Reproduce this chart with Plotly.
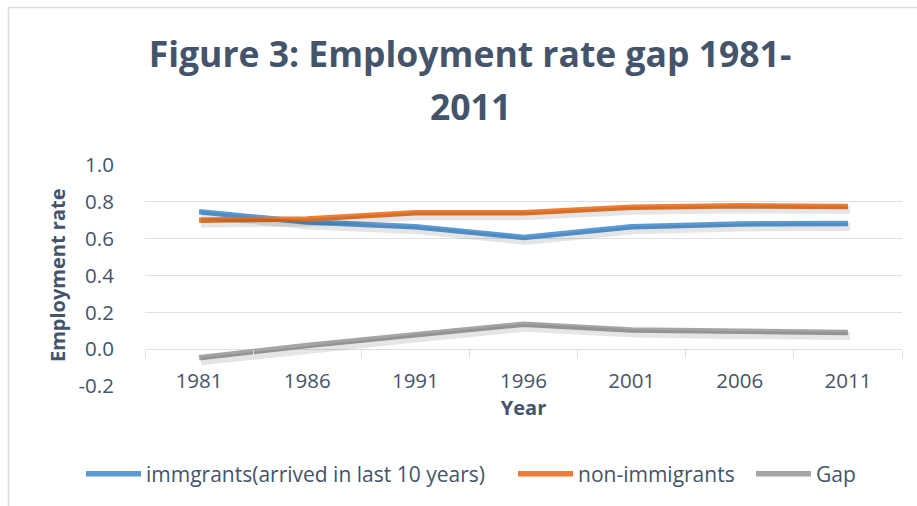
import plotly.graph_objects as go

years = ["1981", "1986", "1991", "1996", "2001", "2006", "2011"]
immigrants = [0.746, 0.690, 0.665, 0.607, 0.665, 0.680, 0.683]
non_immigrants = [0.700, 0.707, 0.741, 0.741, 0.770, 0.779, 0.774]
gap = [-0.047, 0.020, 0.078, 0.135, 0.104, 0.095, 0.090]
y_ticks = [-0.2, 0.0, 0.2, 0.4, 0.6, 0.8, 1.0]

series = [
    ("immgrants(arrived in last 10 years)", immigrants, "#5B9BD5"),
    ("non-immigrants", non_immigrants, "#ED7D31"),
    ("Gap", gap, "#A5A5A5"),
]

FONT = "'Open Sans', sans-serif"
TXT = "#44546A"
GRID = "#DDE1E6"

# plot area geometry (px)
L, R, T, B = 145, 902, 165, 386
W, H = 917, 506
ymin, ymax = -0.2, 1.0
px_per_y = (B - T) / (ymax - ymin)
px_per_x = (R - L) / 7.0

fig = go.Figure()

# soft shadows (same data, axis range offset by a few px)
dx, dy = 2.0, 3.5
for name, vals, col in series:
    fig.add_trace(go.Scatter(x=list(range(len(years))), y=vals, mode="lines",
                             line=dict(color="rgba(0,0,0,0.10)", width=8),
                             xaxis="x3", yaxis="y3", showlegend=False, hoverinfo="skip"))

legend_names = ["legend", "legend2", "legend3"]
for (name, vals, col), lg in zip(series, legend_names):
    fig.add_trace(go.Scatter(x=years, y=vals, mode="lines", name=name, legend=lg,
                             line=dict(color=col, width=5.5)))

zero_pos = (0 - ymin) / (ymax - ymin)

legend_x = [89, 521, 759]
legends = {}
for lg, lx in zip(legend_names, legend_x):
    legends[lg] = dict(x=(lx - 8) / W, xref="container", xanchor="left",
                       y=1 - 474 / H, yref="container", yanchor="middle",
                       font=dict(size=21, color=TXT, family=FONT), itemwidth=55,
                       bgcolor="rgba(0,0,0,0)")

fig.update_layout(
    width=W, height=H,
    margin=dict(l=L, r=W - R, t=T, b=H - B, autoexpand=False),
    paper_bgcolor="white", plot_bgcolor="white",
    font=dict(family=FONT, color=TXT),
    title=dict(text="<b>Figure 3: Employment rate gap 1981-</b>",
               x=470 / W, xref="container", xanchor="center",
               y=1 - 55 / H, yref="container", yanchor="middle",
               font=dict(size=35.5, color=TXT, family=FONT)),
    annotations=[
        dict(text="<b>2011</b>", x=(470 - L) / (R - L), xref="paper",
             y=(B - 106) / (B - T), yref="paper", xanchor="center", yanchor="middle",
             showarrow=False, font=dict(size=35.5, color=TXT, family=FONT)),
        dict(text="<b>Employment rate</b>", x=(57 - L) / (R - L), xref="paper",
             y=(B - 275) / (B - T), yref="paper", xanchor="center", yanchor="middle",
             textangle=-90, showarrow=False, font=dict(size=20, color=TXT, family=FONT)),
    ],
    xaxis=dict(type="category", categoryorder="array", categoryarray=years,
               range=[-0.5, 6.5], showgrid=False, zeroline=False, showline=False,
               ticks="", tickfont=dict(size=20.5, color=TXT), automargin=False,
               ticklabelstandoff=-20,
               title=dict(text="<b>Year</b>", font=dict(size=20, color=TXT), standoff=0)),
    yaxis=dict(range=[ymin, ymax], tickmode="array", tickvals=y_ticks,
               ticktext=[f"{v:.1f}" for v in y_ticks], automargin=False,
               showgrid=True, gridcolor=GRID, gridwidth=1.3,
               zeroline=True, zerolinecolor=GRID, zerolinewidth=1.3,
               showline=False, tickfont=dict(size=20.5, color=TXT),
               ticks="outside", ticklen=26, tickcolor="rgba(0,0,0,0)"),
    xaxis2=dict(overlaying="x", anchor="free", position=zero_pos, range=[-0.5, 6.5],
                tickmode="array", tickvals=[i - 0.5 for i in range(8)], automargin=False,
                ticks="outside", ticklen=8, tickcolor=GRID, tickwidth=1.3,
                showticklabels=False, showgrid=False, zeroline=False, showline=False),
    xaxis3=dict(overlaying="x", range=[-0.5 - dx / px_per_x, 6.5 - dx / px_per_x],
                visible=False),
    yaxis3=dict(overlaying="y", anchor="x3", range=[ymin + dy / px_per_y, ymax + dy / px_per_y],
                visible=False),
    shapes=[dict(type="rect", xref="paper", yref="paper",
                 x0=(8.5 - L) / (R - L), x1=(930 - L) / (R - L),
                 y0=(B - 520) / (B - T), y1=(B - 7.5) / (B - T),
                 line=dict(color="#D9DDE3", width=1.5), layer="below")],
    showlegend=True,
    **legends,
)

# invisible helper so that the tick-mark axis at y=0 is rendered
fig.add_trace(go.Scatter(x=[0], y=[0], xaxis="x2", yaxis="y", mode="markers",
                         marker=dict(opacity=0), showlegend=False, hoverinfo="skip"))

fig.write_html("out.html")
